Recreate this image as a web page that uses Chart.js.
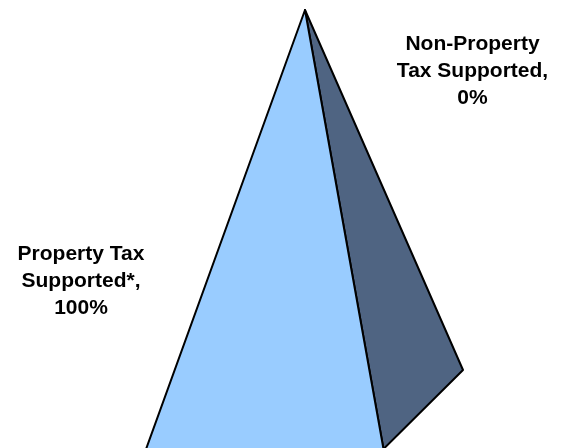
<!DOCTYPE html>
<html>
<head>
<meta charset="utf-8">
<script src="https://cdn.jsdelivr.net/npm/chart.js@4.4.1/dist/chart.umd.min.js"></script>
<style>
  html, body { margin: 0; padding: 0; background: #ffffff; }
  #wrap { width: 567px; height: 448px; }
</style>
</head>
<body>
<div id="wrap"><canvas id="c" width="567" height="448"></canvas></div>
<script>
// Funding shares, stacked from the base of the pyramid upward
const categories = ['Property Tax Supported*', 'Non-Property Tax Supported'];
const shares = [100, 0];
const pointLabels = [
  ['Property Tax', 'Supported*,', '100%'],
  ['Non-Property', 'Tax Supported,', '0%']
];
const faceColors = ['#99CCFF', '#4F6482'];

// Projected corners of the pyramid in plot units (x right, y down)
const solid = {
  apex: { x: 305, y: 10 },
  frontLeft: { x: 145, y: 452 },
  frontRight: { x: 383.5, y: 449 },
  backRight: { x: 463, y: 370 }
};
// Where each slice's label sits, in plot units
const labelAnchors = [
  { x: 81, y: 281 },
  { x: 472.5, y: 71 }
];

function lerp(a, b, t) {
  return { x: a.x + (b.x - a.x) * t, y: a.y + (b.y - a.y) * t };
}

const pyramidPlugin = {
  id: 'pyramid',
  afterDatasetsDraw(chart) {
    const ctx = chart.ctx;
    const sx = chart.scales.x, sy = chart.scales.y;
    const px = p => ({ x: sx.getPixelForValue(p.x), y: sy.getPixelForValue(p.y) });
    const vals = chart.data.datasets[0].data;
    const total = vals.reduce((s, v) => s + v, 0) || 1;

    ctx.save();
    ctx.lineJoin = 'round';
    let acc = 0;
    vals.forEach((v, i) => {
      const h0 = acc / total;
      acc += v;
      const h1 = acc / total;
      if (h1 - h0 <= 0) return;
      const fl0 = px(lerp(solid.frontLeft, solid.apex, h0));
      const fl1 = px(lerp(solid.frontLeft, solid.apex, h1));
      const fr0 = px(lerp(solid.frontRight, solid.apex, h0));
      const fr1 = px(lerp(solid.frontRight, solid.apex, h1));
      const br0 = px(lerp(solid.backRight, solid.apex, h0));
      const br1 = px(lerp(solid.backRight, solid.apex, h1));

      ctx.lineWidth = 2;
      ctx.strokeStyle = '#000000';

      // side face (shaded)
      ctx.beginPath();
      ctx.moveTo(fr0.x, fr0.y);
      ctx.lineTo(br0.x, br0.y);
      ctx.lineTo(br1.x, br1.y);
      ctx.lineTo(fr1.x, fr1.y);
      ctx.closePath();
      ctx.fillStyle = '#4F6482';
      ctx.fill();
      ctx.stroke();

      // front face
      ctx.beginPath();
      ctx.moveTo(fl0.x, fl0.y);
      ctx.lineTo(fr0.x, fr0.y);
      ctx.lineTo(fr1.x, fr1.y);
      ctx.lineTo(fl1.x, fl1.y);
      ctx.closePath();
      ctx.fillStyle = faceColors[i];
      ctx.fill();
      ctx.stroke();
    });

    // slice labels
    ctx.fillStyle = '#000000';
    ctx.font = 'bold 21px "Liberation Sans", Arial, sans-serif';
    ctx.textAlign = 'center';
    ctx.textBaseline = 'middle';
    const lineH = 27;
    chart.data.labels.forEach((name, i) => {
      const a = px(labelAnchors[i]);
      const lines = pointLabels[i];
      lines.forEach((ln, k) => {
        ctx.fillText(ln, a.x, a.y + (k - (lines.length - 1) / 2) * lineH);
      });
    });
    ctx.restore();
  }
};

new Chart(document.getElementById('c'), {
  type: 'scatter',
  data: {
    labels: categories,
    datasets: [{ label: 'Share', data: shares, showLine: false, pointRadius: 0 }]
  },
  options: {
    responsive: false,
    animation: false,
    layout: { padding: 0 },
    plugins: { legend: { display: false }, tooltip: { enabled: false } },
    scales: {
      x: { type: 'linear', min: 0, max: 567, display: false },
      y: { type: 'linear', min: 0, max: 448, reverse: true, display: false }
    }
  },
  plugins: [pyramidPlugin]
});
</script>
</body>
</html>
